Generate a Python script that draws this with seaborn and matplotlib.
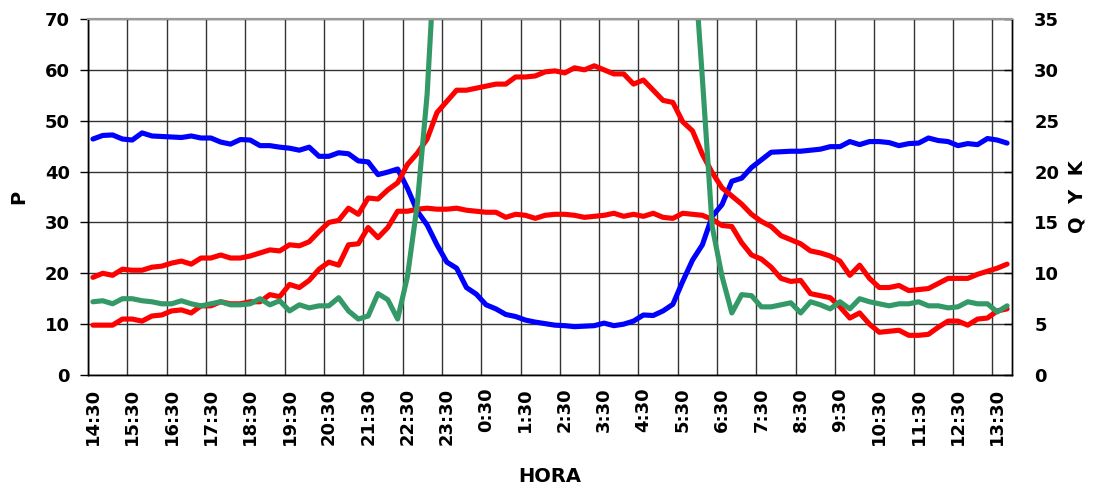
import numpy as np
import pandas as pd
import matplotlib
matplotlib.use("Agg")
import matplotlib.pyplot as plt
import seaborn as sns

# hour labels, one every 4 samples (15 min step), starting 14:30
hour_labels = ["14:30", "15:30", "16:30", "17:30", "18:30", "19:30", "20:30", "21:30",
               "22:30", "23:30", "0:30", "1:30", "2:30", "3:30", "4:30", "5:30",
               "6:30", "7:30", "8:30", "9:30", "10:30", "11:30", "12:30", "13:30"]

# P (left axis)
p_vals = [46.4, 47.1, 47.2, 46.4, 46.2, 47.6, 47.0, 46.9, 46.8, 46.7, 47.0, 46.6,
          46.6, 45.8, 45.4, 46.3, 46.2, 45.1, 45.1, 44.8, 44.6, 44.2, 44.8, 43.0,
          43.0, 43.7, 43.5, 42.1, 41.9, 39.4, 39.9, 40.5, 36.7, 32.2, 29.5, 25.6,
          22.2, 21.0, 17.2, 15.9, 13.8, 13.0, 11.9, 11.5, 10.8, 10.4, 10.1, 9.8,
          9.7, 9.5, 9.6, 9.7, 10.2, 9.7, 10.0, 10.6, 11.8, 11.7, 12.6, 13.9,
          18.4, 22.6, 25.6, 31.2, 33.5, 38.1, 38.7, 40.8, 42.3, 43.8, 43.9, 44.0,
          44.0, 44.2, 44.4, 44.9, 44.9, 45.9, 45.3, 45.9, 45.9, 45.7, 45.1, 45.5,
          45.6, 46.6, 46.1, 45.9, 45.1, 45.5, 45.3, 46.5, 46.2, 45.6]

# Q, Y, K (right axis)
q_vals = [9.6, 10.0, 9.8, 10.4, 10.3, 10.3, 10.6, 10.7, 11.0, 11.2, 10.9, 11.5,
          11.5, 11.8, 11.5, 11.5, 11.7, 12.0, 12.3, 12.2, 12.8, 12.7, 13.1, 14.1,
          15.0, 15.2, 16.4, 15.8, 17.4, 17.3, 18.2, 18.9, 20.7, 21.8, 23.2, 25.8,
          26.9, 28.0, 28.0, 28.2, 28.4, 28.6, 28.6, 29.3, 29.3, 29.4, 29.8, 29.9,
          29.7, 30.2, 30.0, 30.4, 30.0, 29.6, 29.6, 28.6, 29.0, 28.0, 27.0, 26.8,
          24.9, 24.0, 21.7, 19.9, 18.4, 17.6, 16.8, 15.8, 15.1, 14.6, 13.7, 13.3,
          12.9, 12.2, 12.0, 11.7, 11.2, 9.8, 10.8, 9.5, 8.6, 8.6, 8.8, 8.3,
          8.4, 8.5, 9.0, 9.5, 9.5, 9.5, 9.9, 10.2, 10.5, 10.9]

y_vals = [4.9, 4.9, 4.9, 5.5, 5.5, 5.3, 5.8, 5.9, 6.3, 6.4, 6.1, 6.8,
          6.8, 7.2, 7.0, 7.0, 7.2, 7.2, 7.9, 7.7, 8.9, 8.6, 9.3, 10.4,
          11.1, 10.8, 12.8, 12.9, 14.5, 13.5, 14.5, 16.1, 16.1, 16.3, 16.4, 16.3,
          16.3, 16.4, 16.2, 16.1, 16.0, 16.0, 15.5, 15.8, 15.7, 15.4, 15.7, 15.8,
          15.8, 15.7, 15.5, 15.6, 15.7, 15.9, 15.6, 15.8, 15.6, 15.9, 15.5, 15.4,
          15.9, 15.8, 15.7, 15.3, 14.7, 14.6, 13.0, 11.8, 11.4, 10.6, 9.5, 9.2,
          9.3, 8.0, 7.8, 7.6, 6.7, 5.6, 6.1, 5.0, 4.2, 4.3, 4.4, 3.9,
          3.9, 4.0, 4.7, 5.3, 5.3, 4.9, 5.5, 5.6, 6.3, 6.5]

# K goes far off scale during the night (values not readable -> NaN)
nan = np.nan
k_vals = [7.2, 7.3, 7.0, 7.5, 7.5, 7.3, 7.2, 7.0, 7.0, 7.3, 7.0, 6.8,
          7.0, 7.2, 6.9, 6.9, 7.0, 7.5, 6.9, 7.3, 6.3, 6.9, 6.6, 6.8,
          6.8, 7.6, 6.3, 5.5, 5.8, 8.0, 7.4, 5.5, 9.7, 16.8, 27.6, 45.0,
          nan, nan, nan, nan, nan, nan, nan, nan, nan, nan, nan, nan,
          nan, nan, nan, nan, nan, nan, nan, nan, nan, nan, nan, nan,
          nan, 43.0, 29.2, 14.6, 9.7, 6.1, 7.9, 7.8, 6.7, 6.7, 6.9, 7.1,
          6.1, 7.2, 6.9, 6.5, 7.2, 6.5, 7.5, 7.2, 7.0, 6.8, 7.0, 7.0,
          7.2, 6.8, 6.8, 6.6, 6.7, 7.2, 7.0, 7.0, 6.2, 6.8]

df = pd.DataFrame({"i": np.arange(len(p_vals)), "P": p_vals, "Q": q_vals,
                   "Y": y_vals, "K": k_vals})

sns.set_style("white")
plt.rcParams["font.family"] = ["DejaVu Sans"]
plt.rcParams["font.weight"] = "bold"
plt.rcParams["text.color"] = "black"
plt.rcParams["axes.labelcolor"] = "black"
plt.rcParams["xtick.color"] = "black"
plt.rcParams["ytick.color"] = "black"

fig = plt.figure(figsize=(10.95, 4.9), dpi=100)
ax = fig.add_axes([88 / 1095, 115 / 490, 924 / 1095, 356 / 490])
ax2 = ax.twinx()

lw = 3.7
sns.lineplot(data=df, x="i", y="P", ax=ax, color="#0000FF", linewidth=lw,
             estimator=None, sort=False)
sns.lineplot(data=df, x="i", y="Q", ax=ax2, color="#FF0000", linewidth=lw,
             estimator=None, sort=False)
sns.lineplot(data=df, x="i", y="Y", ax=ax2, color="#FF0000", linewidth=lw,
             estimator=None, sort=False)
sns.lineplot(data=df.dropna(), x="i", y="K", ax=ax2, color="#339966", linewidth=lw,
             estimator=None, sort=False)

n = len(p_vals)
ax.set_xlim(-0.5, n - 0.5)
ax.set_ylim(0, 70)
ax2.set_ylim(0, 35)
ax.set_yticks(np.arange(0, 71, 10))
ax2.set_yticks(np.arange(0, 36, 5))

# labels centred on samples, gridlines on category boundaries
ax.set_xticks(np.arange(0, n, 4))
ax.set_xticklabels(hour_labels, rotation=90, fontsize=13, fontweight="bold")
ax.set_xticks(np.arange(-0.5, n, 4), minor=True)
ax.tick_params(axis="x", which="major", length=0, pad=9)
ax.tick_params(axis="x", which="minor", length=6, width=1, color="black", direction="out")
ax.tick_params(axis="y", length=6, width=1, color="black", direction="out",
               labelsize=13, pad=7)
ax2.tick_params(axis="y", length=6, width=1, color="black", direction="in",
                labelsize=13, pad=16)
for t in ax.get_yticklabels() + ax2.get_yticklabels():
    t.set_fontweight("bold")

ax.grid(False)
ax2.grid(False)
ax.grid(True, axis="y", which="major", color="#333333", linewidth=1)
ax.grid(True, axis="x", which="minor", color="#333333", linewidth=1)

ax.set_xlabel("HORA", fontsize=14, fontweight="bold", labelpad=16)
ax.set_ylabel("P", fontsize=14, fontweight="bold", labelpad=12)
ax2.set_ylabel("Q  Y  K", fontsize=14, fontweight="bold", labelpad=6)

for a in (ax, ax2):
    for s in ("left", "right", "bottom"):
        a.spines[s].set_color("black")
        a.spines[s].set_linewidth(1)
    a.spines["top"].set_color("#999999")
    a.spines["top"].set_linewidth(1.5)

fig.savefig("out.png", dpi=100)
